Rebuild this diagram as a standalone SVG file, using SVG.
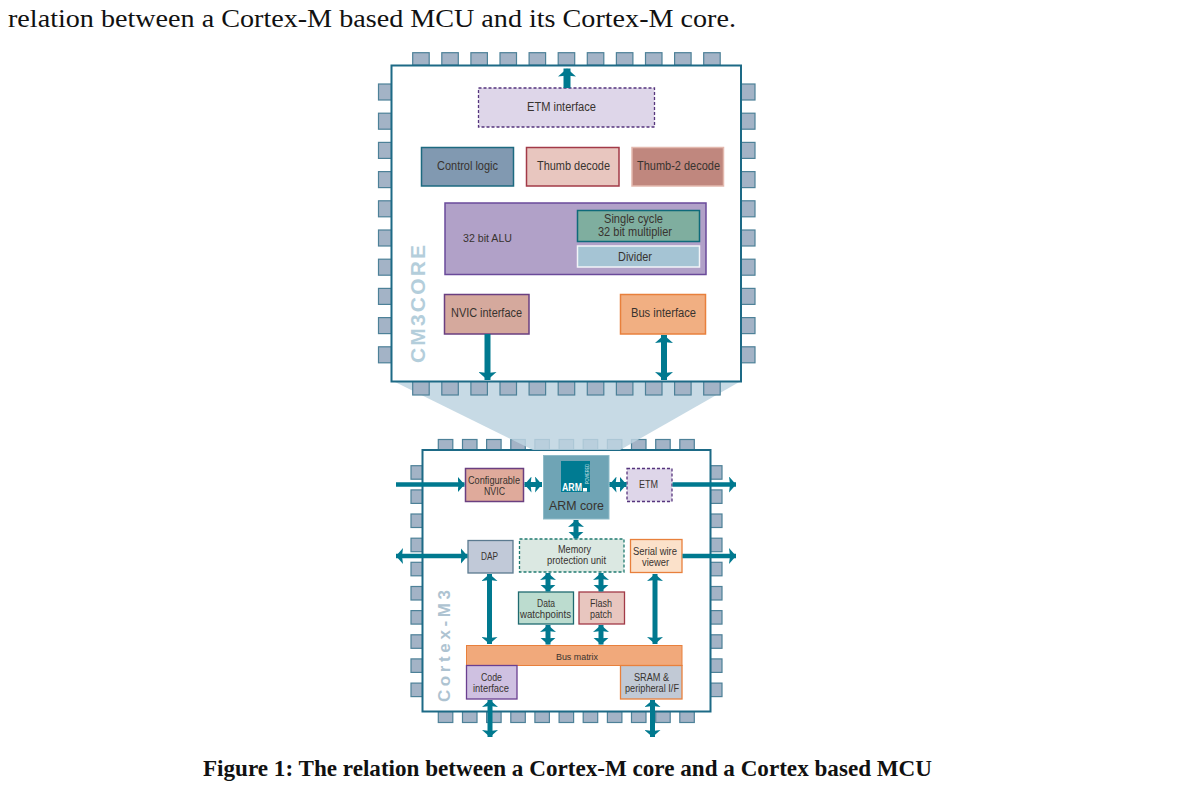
<svg xmlns="http://www.w3.org/2000/svg" width="1182" height="807" viewBox="0 0 1182 807">
<style>
.pin{fill:#a3b3c6;stroke:#4d8198;stroke-width:1.2}
.chip{fill:#fff;stroke:#1d6a86;stroke-width:2}
.t{font-family:"Liberation Sans",Arial,sans-serif;fill:#38332f;text-anchor:middle;lengthAdjust:spacingAndGlyphs}
.s12{font-size:12px}.s11{font-size:11.5px}.s10{font-size:10px}
.ar{fill:none;stroke:#00798f;stroke-width:5}
.body{font-family:"Liberation Serif","Times New Roman",serif;fill:#111}
.side{font-family:"Liberation Sans",Arial,sans-serif;font-weight:bold}
</style>
<defs>
<marker id="h" markerUnits="userSpaceOnUse" markerWidth="10" markerHeight="18" refX="8" refY="9" orient="auto-start-reverse"><path d="M0 0L8 9L0 18L1 9Z" fill="#00798f"/></marker>
<marker id="hs" markerUnits="userSpaceOnUse" markerWidth="8" markerHeight="16" refX="7" refY="8" orient="auto-start-reverse"><path d="M0 0L7 8L0 16L1 8Z" fill="#00798f"/></marker>
</defs>
<rect width="1182" height="807" fill="#fff"/>
<text class="body" x="8" y="27" font-size="24.5" textLength="728" lengthAdjust="spacingAndGlyphs">relation between a Cortex-M based MCU and its Cortex-M core.</text>

<g id="chip-pins-small">
<g class="pin">
<rect x="438.3" y="439.5" width="14.5" height="10.5"/><rect x="462.5" y="439.5" width="14.5" height="10.5"/><rect x="486.6" y="439.5" width="14.5" height="10.5"/><rect x="510.8" y="439.5" width="14.5" height="10.5"/><rect x="534.9" y="439.5" width="14.5" height="10.5"/><rect x="559.1" y="439.5" width="14.5" height="10.5"/><rect x="583.2" y="439.5" width="14.5" height="10.5"/><rect x="607.4" y="439.5" width="14.5" height="10.5"/><rect x="631.5" y="439.5" width="14.5" height="10.5"/><rect x="655.7" y="439.5" width="14.5" height="10.5"/><rect x="679.8" y="439.5" width="14.5" height="10.5"/>
<rect x="438.3" y="711.5" width="14.5" height="11"/><rect x="462.5" y="711.5" width="14.5" height="11"/><rect x="486.6" y="711.5" width="14.5" height="11"/><rect x="510.8" y="711.5" width="14.5" height="11"/><rect x="534.9" y="711.5" width="14.5" height="11"/><rect x="559.1" y="711.5" width="14.5" height="11"/><rect x="583.2" y="711.5" width="14.5" height="11"/><rect x="607.4" y="711.5" width="14.5" height="11"/><rect x="631.5" y="711.5" width="14.5" height="11"/><rect x="655.7" y="711.5" width="14.5" height="11"/><rect x="679.8" y="711.5" width="14.5" height="11"/>
<rect x="411" y="465.7" width="11.5" height="13.5"/><rect x="411" y="489.9" width="11.5" height="13.5"/><rect x="411" y="514" width="11.5" height="13.5"/><rect x="411" y="538.2" width="11.5" height="13.5"/><rect x="411" y="562.3" width="11.5" height="13.5"/><rect x="411" y="586.5" width="11.5" height="13.5"/><rect x="411" y="610.6" width="11.5" height="13.5"/><rect x="411" y="634.8" width="11.5" height="13.5"/><rect x="411" y="658.9" width="11.5" height="13.5"/><rect x="411" y="683.1" width="11.5" height="13.5"/>
<rect x="710.5" y="465.7" width="11.5" height="13.5"/><rect x="710.5" y="489.9" width="11.5" height="13.5"/><rect x="710.5" y="514" width="11.5" height="13.5"/><rect x="710.5" y="538.2" width="11.5" height="13.5"/><rect x="710.5" y="562.3" width="11.5" height="13.5"/><rect x="710.5" y="586.5" width="11.5" height="13.5"/><rect x="710.5" y="610.6" width="11.5" height="13.5"/><rect x="710.5" y="634.8" width="11.5" height="13.5"/><rect x="710.5" y="658.9" width="11.5" height="13.5"/><rect x="710.5" y="683.1" width="11.5" height="13.5"/>
</g>
</g>
<rect id="chip-small" class="chip" x="422.500" y="450" width="288" height="261.500"/>
<polygon id="zoom-funnel" points="393,381 741,381 620,450 533,450" fill="#bdd3e0" fill-opacity="0.85"/>

<g id="chip-pins-large">
<g class="pin">
<rect x="412.7" y="52.7" width="16.5" height="12.5"/><rect x="441.8" y="52.7" width="16.5" height="12.5"/><rect x="470.9" y="52.7" width="16.5" height="12.5"/><rect x="500" y="52.7" width="16.5" height="12.5"/><rect x="529.1" y="52.7" width="16.5" height="12.5"/><rect x="558.2" y="52.7" width="16.5" height="12.5"/><rect x="587.3" y="52.7" width="16.5" height="12.5"/><rect x="616.4" y="52.7" width="16.5" height="12.5"/><rect x="645.5" y="52.7" width="16.5" height="12.5"/><rect x="674.6" y="52.7" width="16.5" height="12.5"/><rect x="703.7" y="52.7" width="16.5" height="12.5"/>
<rect x="412.7" y="381" width="16.5" height="14"/><rect x="441.8" y="381" width="16.5" height="14"/><rect x="470.9" y="381" width="16.5" height="14"/><rect x="500" y="381" width="16.5" height="14"/><rect x="529.1" y="381" width="16.5" height="14"/><rect x="558.2" y="381" width="16.5" height="14"/><rect x="587.3" y="381" width="16.5" height="14"/><rect x="616.4" y="381" width="16.5" height="14"/><rect x="645.5" y="381" width="16.5" height="14"/><rect x="674.6" y="381" width="16.5" height="14"/><rect x="703.7" y="381" width="16.5" height="14"/>
<rect x="378.5" y="84" width="13" height="16"/><rect x="378.5" y="113.2" width="13" height="16"/><rect x="378.5" y="142.4" width="13" height="16"/><rect x="378.5" y="171.6" width="13" height="16"/><rect x="378.5" y="200.8" width="13" height="16"/><rect x="378.5" y="230" width="13" height="16"/><rect x="378.5" y="259.2" width="13" height="16"/><rect x="378.5" y="288.4" width="13" height="16"/><rect x="378.5" y="317.6" width="13" height="16"/><rect x="378.5" y="346.8" width="13" height="16"/>
<rect x="741" y="84" width="14" height="16"/><rect x="741" y="113.2" width="14" height="16"/><rect x="741" y="142.4" width="14" height="16"/><rect x="741" y="171.6" width="14" height="16"/><rect x="741" y="200.8" width="14" height="16"/><rect x="741" y="230" width="14" height="16"/><rect x="741" y="259.2" width="14" height="16"/><rect x="741" y="288.4" width="14" height="16"/><rect x="741" y="317.6" width="14" height="16"/><rect x="741" y="346.8" width="14" height="16"/>
</g>
</g>
<rect id="chip-large" class="chip" x="391.500" y="65.500" width="349.500" height="316"/>

<text class="side" transform="translate(425,363) rotate(-90)" font-size="21" textLength="118" lengthAdjust="spacing" fill="#b4cedb">CM3CORE</text>
<text class="side" transform="translate(449.500,702) rotate(-90)" font-size="17" textLength="112" lengthAdjust="spacing" fill="#aec3d1">Cortex-M3</text>

<g id="n-etm-interface"><rect x="478.500" y="88" width="176" height="39" fill="#ded6e9" stroke="#56357d" stroke-width="1.300" stroke-dasharray="3 2"/><text class="t s12" x="561.500" y="111" textLength="69" lengthAdjust="spacingAndGlyphs">ETM interface</text></g>
<g id="n-control-logic"><rect x="421.500" y="147.500" width="92" height="38.500" fill="#8199b1" stroke="#1d6a80" stroke-width="1.500"/><text class="t s12" x="467.500" y="170" textLength="61" lengthAdjust="spacingAndGlyphs">Control logic</text></g>
<g id="n-thumb-decode"><rect x="526.500" y="147.500" width="92.500" height="38.500" fill="#e8c6bf" stroke="#a23a47" stroke-width="1.500"/><text class="t s12" x="573.500" y="170" textLength="73" lengthAdjust="spacingAndGlyphs">Thumb decode</text></g>
<g id="n-thumb2-decode"><rect x="632" y="147.500" width="91.500" height="38.500" fill="#c0877e" stroke="#e3b9ae" stroke-width="1.500"/><text class="t s12" x="678.500" y="170" textLength="83" lengthAdjust="spacingAndGlyphs">Thumb-2 decode</text></g>
<g id="n-alu"><rect x="445" y="203" width="261" height="71.500" fill="#b1a1c8" stroke="#6a4a9a" stroke-width="1.500"/><text class="t s11" x="487.500" y="242" textLength="49" lengthAdjust="spacingAndGlyphs">32 bit ALU</text></g>
<g id="n-multiplier"><rect x="577.500" y="210.500" width="122" height="31" fill="#7fae9f" stroke="#0f6a7a" stroke-width="1.500"/><text class="t s12" x="633.500" y="222.500" textLength="59" lengthAdjust="spacingAndGlyphs">Single cycle</text><text class="t s12" x="635" y="236" textLength="74" lengthAdjust="spacingAndGlyphs">32 bit multiplier</text></g>
<g id="n-divider"><rect x="577.500" y="246" width="122" height="21" fill="#a5c4d4" stroke="#f2f4f8" stroke-width="1.500"/><text class="t s12" x="635" y="261" textLength="34" lengthAdjust="spacingAndGlyphs">Divider</text></g>
<g id="n-nvic-interface"><rect x="444.500" y="294.500" width="84.500" height="39.500" fill="#d5a99d" stroke="#6a3f80" stroke-width="1.500"/><text class="t s12" x="486.500" y="317" textLength="71" lengthAdjust="spacingAndGlyphs">NVIC interface</text></g>
<g id="n-bus-interface"><rect x="620.500" y="294.500" width="85" height="39.500" fill="#f1af82" stroke="#e8803c" stroke-width="1.500"/><text class="t s12" x="663.500" y="317" textLength="65" lengthAdjust="spacingAndGlyphs">Bus interface</text></g>

<g id="n-config-nvic"><rect x="465.500" y="468.500" width="58" height="33" fill="#dfaa9b" stroke="#6a3f80" stroke-width="1.500"/><text class="t s10" x="494" y="484" textLength="52" lengthAdjust="spacingAndGlyphs">Configurable</text><text class="t s10" x="494.500" y="495" textLength="21" lengthAdjust="spacingAndGlyphs">NVIC</text></g>
<g id="n-arm-core"><rect x="543.500" y="455.500" width="65.500" height="63.500" fill="#6fa4b5" stroke="#8fbbc8" stroke-width="1"/><rect x="561" y="461" width="29" height="31" fill="#007b92"/><text x="572" y="491" font-family="'Liberation Sans',Arial,sans-serif" font-weight="bold" font-size="10" fill="#fff" text-anchor="middle" textLength="20" lengthAdjust="spacingAndGlyphs">ARM</text><rect x="583" y="488" width="4" height="3.500" fill="#fff"/><text transform="translate(589,484) rotate(-90)" font-family="'Liberation Sans',Arial,sans-serif" font-size="5" fill="#cfe0e5" textLength="20" lengthAdjust="spacingAndGlyphs">POWERED</text><text class="t" x="576.500" y="510" font-size="13" textLength="55" lengthAdjust="spacingAndGlyphs">ARM core</text></g>
<g id="n-etm"><rect x="627" y="468.500" width="45" height="33" fill="#ded6e9" stroke="#56357d" stroke-width="1.300" stroke-dasharray="3 2"/><text class="t s10" x="648.500" y="488" textLength="19" lengthAdjust="spacingAndGlyphs">ETM</text></g>
<g id="n-dap"><rect x="468" y="540.500" width="45" height="32.500" fill="#c1c9d8" stroke="#5b7a90" stroke-width="1.300"/><text class="t s10" x="489.500" y="560" textLength="17" lengthAdjust="spacingAndGlyphs">DAP</text></g>
<g id="n-mpu"><rect x="519.500" y="539" width="104.500" height="33" fill="#dbe8e2" stroke="#1f7a70" stroke-width="1.300" stroke-dasharray="3 2"/><text class="t s10" x="574.500" y="553" textLength="33" lengthAdjust="spacingAndGlyphs">Memory</text><text class="t s10" x="576.500" y="564" textLength="59" lengthAdjust="spacingAndGlyphs">protection unit</text></g>
<g id="n-serial"><rect x="630.500" y="539.500" width="51.500" height="33" fill="#fbe1ca" stroke="#e8803c" stroke-width="1.300"/><text class="t s10" x="655" y="555" textLength="44" lengthAdjust="spacingAndGlyphs">Serial wire</text><text class="t s10" x="655.500" y="566" textLength="27" lengthAdjust="spacingAndGlyphs">viewer</text></g>
<g id="n-watch"><rect x="518.500" y="592" width="55" height="32" fill="#bcdccf" stroke="#1f6a70" stroke-width="1.300"/><text class="t s10" x="546" y="607" textLength="18" lengthAdjust="spacingAndGlyphs">Data</text><text class="t s10" x="545.500" y="618" textLength="51" lengthAdjust="spacingAndGlyphs">watchpoints</text></g>
<g id="n-flash"><rect x="579" y="592" width="45.500" height="32" fill="#e8c6bf" stroke="#a23a47" stroke-width="1.300"/><text class="t s10" x="601" y="607" textLength="22" lengthAdjust="spacingAndGlyphs">Flash</text><text class="t s10" x="601" y="618" textLength="22" lengthAdjust="spacingAndGlyphs">patch</text></g>
<g id="n-bus-matrix"><rect x="466.500" y="645.500" width="215.500" height="20" fill="#f1a97b" stroke="#e8803c" stroke-width="1"/><text class="t" x="577" y="659.500" font-size="9" textLength="42" lengthAdjust="spacingAndGlyphs">Bus matrix</text></g>
<g id="n-code"><rect x="466.500" y="665.500" width="50.500" height="33.500" fill="#cfc1e1" stroke="#6a3f90" stroke-width="1.300"/><text class="t s10" x="491.500" y="681" textLength="21" lengthAdjust="spacingAndGlyphs">Code</text><text class="t s10" x="491" y="692" textLength="36" lengthAdjust="spacingAndGlyphs">interface</text></g>
<g id="n-sram"><rect x="620.500" y="665.500" width="61.500" height="33.500" fill="#c1c9d5" stroke="#e8803c" stroke-width="1.300"/><text class="t s10" x="651.500" y="681" textLength="35" lengthAdjust="spacingAndGlyphs">SRAM &amp;</text><text class="t s10" x="652" y="692" textLength="54" lengthAdjust="spacingAndGlyphs">peripheral I/F</text></g>

<g id="connectors" class="ar">
<path d="M567 88V68.500" marker-end="url(#h)" stroke-width="7"/>
<path d="M487.500 334V380" marker-end="url(#h)" stroke-width="6"/>
<path d="M664 335V380" marker-start="url(#h)" marker-end="url(#h)" stroke-width="6"/>
<path d="M396 484.500H464.500" marker-end="url(#hs)" stroke-width="4.500"/>
<path d="M524.500 484.500H542" marker-start="url(#hs)" marker-end="url(#hs)" stroke-width="5"/>
<path d="M609.500 484.500H626.500" marker-start="url(#hs)" marker-end="url(#hs)" stroke-width="5"/>
<path d="M672.500 484.500H736" marker-end="url(#hs)" stroke-width="4.500"/>
<path d="M576 520V538.500" marker-start="url(#hs)" marker-end="url(#hs)" stroke-width="5"/>
<path d="M396 556H467.500" marker-start="url(#hs)" marker-end="url(#hs)" stroke-width="4.500"/>
<path d="M682.500 556H736" marker-end="url(#hs)" stroke-width="4.500"/>
<path d="M548 573V591.500" marker-start="url(#hs)" marker-end="url(#hs)" stroke-width="5"/>
<path d="M601 573V591.500" marker-start="url(#hs)" marker-end="url(#hs)" stroke-width="5"/>
<path d="M548 625V644.500" marker-start="url(#hs)" marker-end="url(#hs)" stroke-width="5"/>
<path d="M601 625V644.500" marker-start="url(#hs)" marker-end="url(#hs)" stroke-width="5"/>
<path d="M489.500 574V644" marker-start="url(#hs)" marker-end="url(#hs)" stroke-width="5"/>
<path d="M655 574V644" marker-start="url(#hs)" marker-end="url(#hs)" stroke-width="5"/>
<path d="M490 700V737" marker-start="url(#hs)" marker-end="url(#hs)" stroke-width="5"/>
<path d="M652.500 700V737" marker-start="url(#hs)" marker-end="url(#hs)" stroke-width="5"/>
</g>

<text class="body" x="203" y="776" font-size="22.500" font-weight="bold" textLength="729" lengthAdjust="spacingAndGlyphs">Figure 1: The relation between a Cortex-M core and a Cortex based MCU</text>
</svg>
